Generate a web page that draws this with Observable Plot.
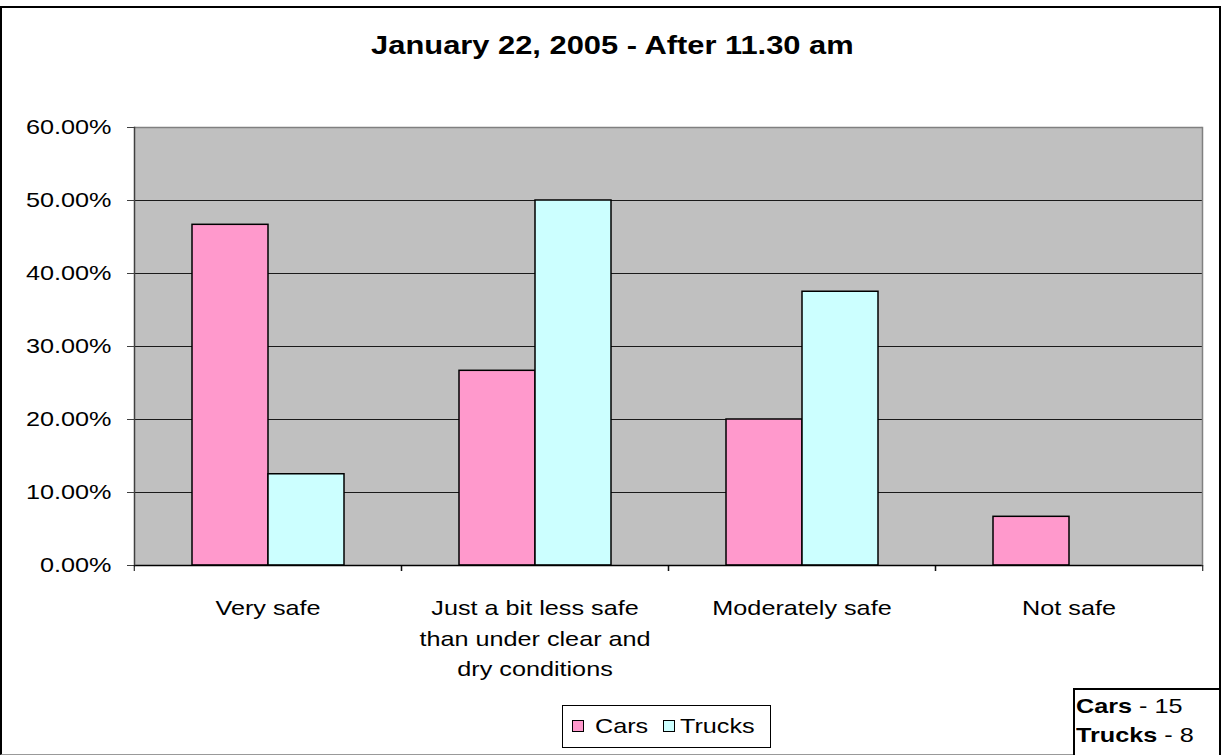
<!DOCTYPE html>
<html>
<head>
<meta charset="utf-8">
<script src="https://cdn.jsdelivr.net/npm/d3@7"></script>
<script src="https://cdn.jsdelivr.net/npm/@observablehq/plot@0.6"></script>
<style>
  body { margin: 0; background: #fff; }
  #chart {
    position: relative; width: 1225px; height: 755px; overflow: hidden;
    font-family: "Liberation Sans", Arial, sans-serif; color: #000;
  }
  #chart svg { position: absolute; left: 0; top: 0; background: transparent; }
  .outer {
    position: absolute; left: 0px; top: 6px; width: 1221px; height: 749px;
    border: 2px solid #000; border-bottom: 1px solid #999; box-sizing: border-box;
  }
  .wide { display: inline-block; white-space: nowrap; transform: scaleX(1.2); transform-origin: left center; }
  .title {
    position: absolute; left: 0; top: 33px; width: 1225px; text-align: center;
    font-size: 25.5px; font-weight: bold; line-height: 25.5px; white-space: nowrap;
  }
  .title .wide { transform: scaleX(1.21); transform-origin: center; }
  .legend {
    position: absolute; left: 562px; top: 705px; width: 209px; height: 43px;
    border: 1px solid #000; box-sizing: border-box; background: #fff;
    font-size: 21px; line-height: 29px;
  }
  .legend .sw { position: absolute; top: 14px; width: 12px; height: 12px; border: 1px solid #000; box-sizing: border-box; }
  .legend .lab { position: absolute; top: 5px; }
  .counts {
    position: absolute; left: 1073px; top: 688px; width: 148px; height: 80px;
    border: 2px solid #000; box-sizing: border-box; background: #fff;
    padding: 1px 0 0 1px; font-size: 21px; line-height: 29px;
  }
  .counts > div { height: 29px; }
</style>
</head>
<body>
<div id="chart">
  <div class="outer"></div>
</div>
<script>
// Survey: perceived road safety after 11.30 am, January 22, 2005
const categories = [
  "Very safe",
  "Just a bit less safe\nthan under clear and\ndry conditions",
  "Moderately safe",
  "Not safe"
];
const series = ["Cars", "Trucks"];
const seriesColors = ["#ff99cc", "#ccffff"];
const carsShare = [46.67, 26.67, 20.00, 6.67];   // percent of car drivers
const trucksShare = [12.50, 50.00, 37.50, 0.00]; // percent of truck drivers
const sampleSizes = [15, 8];
const yTicks = [0, 10, 20, 30, 40, 50, 60];
const titleText = "January 22, 2005 - After 11.30 am";

const rows = categories.flatMap((category, i) => [
  {category, series: "Cars", value: carsShare[i]},
  {category, series: "Trucks", value: trucksShare[i]}
]).filter(d => d.value > 0);

const W = 1225, H = 700;
const mLeft = 133, mRight = 22, mTop = 127, mBottom = 135;
const halfBand = (W - mLeft - mRight) / categories.length / 2;
const stretch = 1.2; // horizontal widening of the lettering

const plot = Plot.plot({
  width: W,
  height: H,
  marginLeft: mLeft,
  marginRight: mRight,
  marginTop: mTop,
  marginBottom: mBottom,
  style: {
    fontFamily: '"Liberation Sans", Arial, sans-serif',
    fontSize: "21px",
    color: "#000",
    background: "transparent",
    overflow: "visible"
  },
  fx: {domain: categories, padding: 0, label: null, axis: null},
  x: {domain: series, paddingInner: 0, paddingOuter: 0.737, axis: null},
  y: {domain: [0, 60], label: null, axis: null},
  color: {domain: series, range: seriesColors},
  marks: [
    Plot.frame({fill: "#c0c0c0", stroke: "#c0c0c0", strokeWidth: 1}),
    Plot.ruleY(yTicks.filter(t => t > 0 && t < 60), {stroke: "#1a1a1a", strokeWidth: 1}),
    Plot.ruleY([60], {stroke: "#808080", strokeWidth: 1.5}),
    Plot.barY(rows, {
      fx: "category", x: "series", y: "value",
      fill: "series", stroke: "#000", strokeWidth: 1.5
    }),
    Plot.ruleY([0], {stroke: "#000", strokeWidth: 1.5}),
    Plot.frame({anchor: "left", facetAnchor: "left", stroke: "#404040", strokeWidth: 1.5}),
    Plot.frame({anchor: "right", facetAnchor: "right", stroke: "#808080", strokeWidth: 1.5}),
    Plot.axisY({
      ticks: yTicks, tickFormat: d => d.toFixed(2) + "%",
      tickSize: 7, tickPadding: 16, stroke: "#404040", fill: "#000", label: null
    }),
    Plot.axisFx({
      anchor: "bottom", tickSize: 0, tickPadding: 28, lineHeight: 1.45,
      fill: "#000", label: null
    }),
    Plot.axisFx({anchor: "bottom", tickSize: 6, dx: -halfBand, stroke: "#000", fill: "none", label: null}),
    Plot.axisFx({anchor: "bottom", tickSize: 6, dx: halfBand, stroke: "#000", fill: "none", label: null})
  ]
});

const chart = document.getElementById("chart");
chart.appendChild(plot);

// widen the axis lettering without changing its height
plot.querySelectorAll("text").forEach(t => {
  const spans = t.querySelectorAll("tspan");
  (spans.length ? Array.from(spans) : [t]).forEach(el => {
    const len = el.getComputedTextLength();
    if (len > 0) {
      el.setAttribute("textLength", len * stretch);
      el.setAttribute("lengthAdjust", "spacingAndGlyphs");
    }
  });
});

const title = d3.select(chart).append("div").attr("class", "title");
title.append("span").attr("class", "wide").text(titleText);

// legend built from the series names and colours
const legend = d3.select(chart).append("div").attr("class", "legend");
const swatchLeft = [9, 100], labelLeft = [32, 117];
series.forEach((name, i) => {
  legend.append("div").attr("class", "sw")
    .style("left", swatchLeft[i] + "px").style("background", seriesColors[i]);
  legend.append("span").attr("class", "lab wide")
    .style("left", labelLeft[i] + "px").text(name);
});

// respondent counts
const counts = d3.select(chart).append("div").attr("class", "counts");
series.forEach((name, i) => {
  const line = counts.append("div").append("span").attr("class", "wide");
  line.append("b").text(name);
  line.append("span").text(" - " + sampleSizes[i]);
});
</script>
</body>
</html>
